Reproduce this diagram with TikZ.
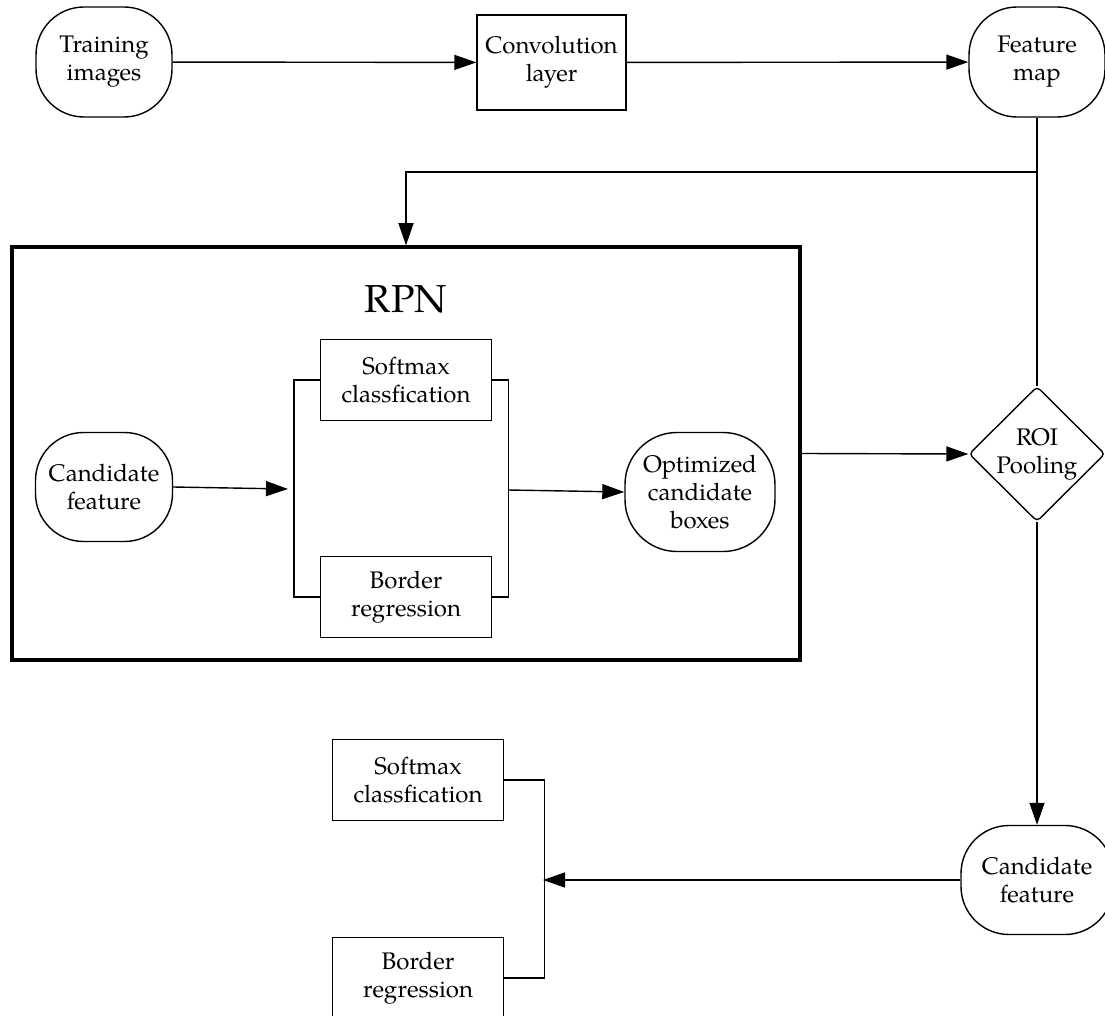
\documentclass[tikz,border=0pt]{standalone}
\usepackage{fontspec}
\setmainfont{TeX Gyre Pagella}
\usetikzlibrary{arrows.meta,shapes.geometric,calc}
\begin{document}
\begin{tikzpicture}[x=1pt,y=-1pt,
  every node/.style={font=\fontsize{24}{28}\selectfont, align=center, inner sep=0pt},
  term/.style={draw, line width=1.4pt, rounded corners=48pt, minimum width=136pt, minimum height=110pt},
  procbox/.style={draw, line width=1.4pt, minimum width=171pt, minimum height=81pt},
  ln/.style={line width=1.4pt},
  arr/.style={line width=1.4pt, -{Triangle[length=22pt,width=15pt]}},
  decis/.style={draw, diamond, line width=1.4pt, rounded corners=4pt, minimum width=136pt, minimum height=135pt, aspect=1}
]
\useasboundingbox (0,0) rectangle (1105,1016);

% top row
\node[term] (ti) at (104,62) {Training\\images};
\node[draw, line width=1.4pt, minimum width=149pt, minimum height=95pt] (conv) at (551.5,62.5) {Convolution\\layer};
\node[term] (fm) at (1037,62) {Feature\\map};

% RPN frame
\node[draw, line width=3.5pt, minimum width=788pt, minimum height=413pt] (rpn) at (406,453.5) {};
\node[font=\fontsize{39}{44}\selectfont] (rpnt) at (406,299) {RPN};

\node[term, minimum width=137pt, minimum height=109pt] (cf1) at (104,487) {Candidate\\feature};
\node[procbox] (sm1) at (406,380) {Softmax\\classfication};
\node[procbox] (bm1) at (406,597) {Border\\regression};
\node[term, minimum width=150pt, minimum height=119pt, rounded corners=52pt] (opt) at (700,492) {Optimized\\candidate\\boxes};
\coordinate (bl) at (288,489);
\coordinate (br) at (508,490);

% right column
\node[decis] (dia) at (1037,454) {ROI\\Pooling};
\node[term, minimum width=152pt, minimum height=109pt] (cf2) at (1037,880) {Candidate\\feature};

% bottom left
\node[procbox] (sm2) at (418,780) {Softmax\\classfication};
\node[procbox] (bm2) at (418,978) {Border\\regression};
\coordinate (bj) at (543,880);

\coordinate (j) at (1037,172);

% connectors
\draw[arr] (ti) -- (conv);
\draw[arr] (conv) -- (fm);
\draw[ln] (fm.south) -- (dia.north);
\draw[arr] (j) -| (rpn.north);
\draw[arr] (cf1.east) -- (bl);
\draw[ln] (sm1.west) -- ++(-26pt,0pt) |- (bm1.west);
\draw[ln] (sm1.east) -- ++(16pt,0pt) |- (bm1.east);
\draw[arr] (br) -- (opt.west);
\draw[arr] (rpn.east) -- (dia.west);
\draw[arr] (dia.south) -- (cf2.north);
\draw[ln] (sm2.east) -- ++(40pt,0pt) |- (bm2.east);
\draw[arr] (cf2.west) -- (bj);
\end{tikzpicture}
\end{document}
